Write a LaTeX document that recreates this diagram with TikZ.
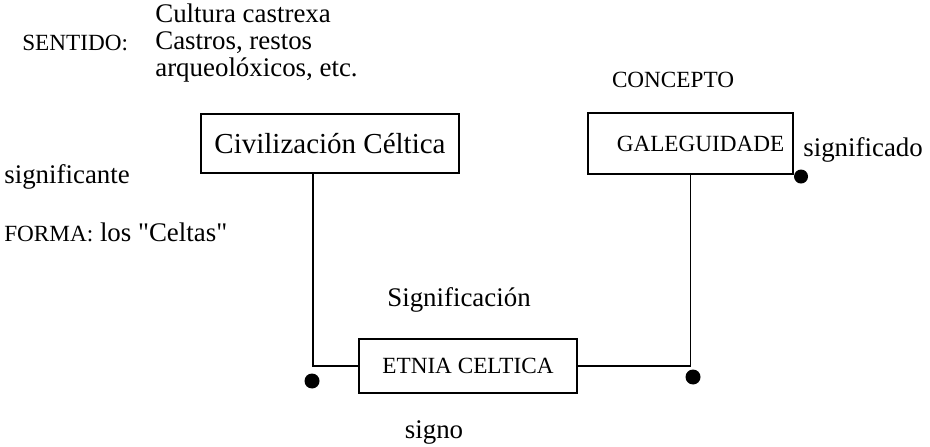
\documentclass[tikz,border=0pt]{standalone}
\usepackage{fontspec}
\setmainfont{Liberation Serif}
\usepackage{tikz}
\usetikzlibrary{calc}
\tikzset{
	caixa/.style={draw, line width=0.6pt, inner sep=0pt, font=\fontsize{16.5}{17}\selectfont},
	texto/.style={inner sep=0pt, font=\fontsize{15.3}{15.6}\selectfont},
	maiusc/.style={inner sep=0pt, font=\fontsize{13.2}{14}\selectfont},
	trazo/.style={line width=0.8pt}
}
\begin{document}
\begin{tikzpicture}
		%%%%% START %%%%%
		\useasboundingbox (0, 0) rectangle (18.6, 8.92);
		
		\node[maiusc, anchor=west] (sentido) at (0.44, 8.06) {SENTIDO:};
		\node[texto, anchor=west, align=left] (cultura) at (3.10, 8.06) {Cultura castrexa\\Castros, restos\\arqueolóxicos, etc.};
		\node[maiusc] (concepto) at (13.46, 7.32) {CONCEPTO};
		
		\node[caixa, minimum width=5.16cm, minimum height=1.18cm] (civ) at (6.60, 6.05) {Civilización Céltica};
		\node[caixa, maiusc, text width=3.75cm, align=right, minimum width=4.10cm, minimum height=1.22cm] (gal) at (13.81, 6.05) {GALEGUIDADE};
		\node[caixa, maiusc, minimum width=4.36cm, minimum height=1.08cm] (etnia) at (9.36, 1.60) {ETNIA CELTICA};
		
		\node[texto, anchor=west] (ste) at (0.08, 5.38) {significante};
		\node[texto, anchor=west] (sdo) at (16.06, 5.92) {significado};
		\node[texto, anchor=west] (forma) at (0.08, 4.28) {{\fontsize{13.2}{14}\selectfont FORMA:} los \textquotedbl Celtas\textquotedbl};
		\node[texto] (signif) at (9.18, 2.92) {Significación};
		\node[texto] (signo) at (8.68, 0.28) {signo};
		
		\coordinate (esq) at (6.26, 1.60);
		\draw[trazo] (esq |- civ.south) -- (esq) -- (etnia.west);
		\draw[trazo] (gal.south) |- (etnia.east);
		
		\fill (6.24, 1.30) circle (0.15);
		\fill (13.86, 1.38) circle (0.15);
		\fill (gal.south east) ++(0.15, -0.04) circle (0.14);
		
		%%%%% END %%%%%
	\end{tikzpicture}
\end{document}
